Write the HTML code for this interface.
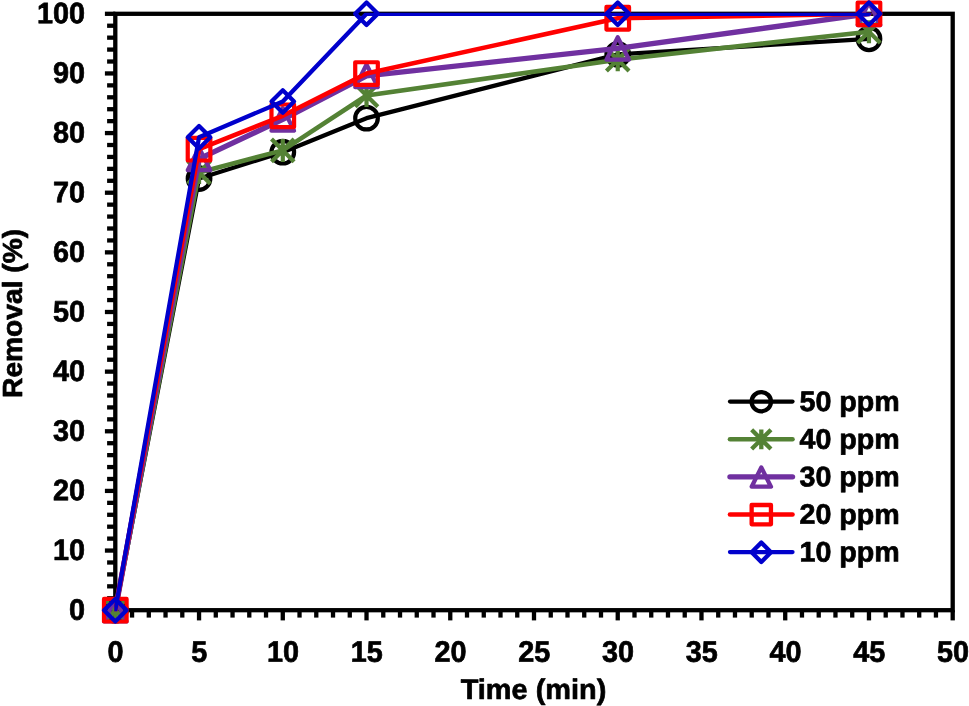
<!DOCTYPE html>
<html lang="en"><head><meta charset="utf-8"><title>Removal (%) vs Time (min)</title>
<style>html,body{margin:0;padding:0;background:#fff;}body{width:969px;height:706px;overflow:hidden;}svg{display:block;}text{font-family:"Liberation Sans", sans-serif;font-weight:bold;fill:#000;stroke:#000;stroke-width:0.7px;stroke-linejoin:round;}</style></head><body>
<svg width="969" height="706" viewBox="0 0 969 706">
<rect x="0" y="0" width="969" height="706" fill="#ffffff"/>
<g stroke="#000" stroke-width="4.30" fill="none" stroke-linecap="butt">
<rect x="115.30" y="13.80" width="837.40" height="596.40"/>
<line x1="104.90" y1="610.20" x2="115.30" y2="610.20"/>
<line x1="107.10" y1="598.27" x2="115.30" y2="598.27"/>
<line x1="107.10" y1="586.34" x2="115.30" y2="586.34"/>
<line x1="107.10" y1="574.42" x2="115.30" y2="574.42"/>
<line x1="107.10" y1="562.49" x2="115.30" y2="562.49"/>
<line x1="104.90" y1="550.56" x2="115.30" y2="550.56"/>
<line x1="107.10" y1="538.63" x2="115.30" y2="538.63"/>
<line x1="107.10" y1="526.70" x2="115.30" y2="526.70"/>
<line x1="107.10" y1="514.78" x2="115.30" y2="514.78"/>
<line x1="107.10" y1="502.85" x2="115.30" y2="502.85"/>
<line x1="104.90" y1="490.92" x2="115.30" y2="490.92"/>
<line x1="107.10" y1="478.99" x2="115.30" y2="478.99"/>
<line x1="107.10" y1="467.06" x2="115.30" y2="467.06"/>
<line x1="107.10" y1="455.14" x2="115.30" y2="455.14"/>
<line x1="107.10" y1="443.21" x2="115.30" y2="443.21"/>
<line x1="104.90" y1="431.28" x2="115.30" y2="431.28"/>
<line x1="107.10" y1="419.35" x2="115.30" y2="419.35"/>
<line x1="107.10" y1="407.42" x2="115.30" y2="407.42"/>
<line x1="107.10" y1="395.50" x2="115.30" y2="395.50"/>
<line x1="107.10" y1="383.57" x2="115.30" y2="383.57"/>
<line x1="104.90" y1="371.64" x2="115.30" y2="371.64"/>
<line x1="107.10" y1="359.71" x2="115.30" y2="359.71"/>
<line x1="107.10" y1="347.78" x2="115.30" y2="347.78"/>
<line x1="107.10" y1="335.86" x2="115.30" y2="335.86"/>
<line x1="107.10" y1="323.93" x2="115.30" y2="323.93"/>
<line x1="104.90" y1="312.00" x2="115.30" y2="312.00"/>
<line x1="107.10" y1="300.07" x2="115.30" y2="300.07"/>
<line x1="107.10" y1="288.14" x2="115.30" y2="288.14"/>
<line x1="107.10" y1="276.22" x2="115.30" y2="276.22"/>
<line x1="107.10" y1="264.29" x2="115.30" y2="264.29"/>
<line x1="104.90" y1="252.36" x2="115.30" y2="252.36"/>
<line x1="107.10" y1="240.43" x2="115.30" y2="240.43"/>
<line x1="107.10" y1="228.50" x2="115.30" y2="228.50"/>
<line x1="107.10" y1="216.58" x2="115.30" y2="216.58"/>
<line x1="107.10" y1="204.65" x2="115.30" y2="204.65"/>
<line x1="104.90" y1="192.72" x2="115.30" y2="192.72"/>
<line x1="107.10" y1="180.79" x2="115.30" y2="180.79"/>
<line x1="107.10" y1="168.86" x2="115.30" y2="168.86"/>
<line x1="107.10" y1="156.94" x2="115.30" y2="156.94"/>
<line x1="107.10" y1="145.01" x2="115.30" y2="145.01"/>
<line x1="104.90" y1="133.08" x2="115.30" y2="133.08"/>
<line x1="107.10" y1="121.15" x2="115.30" y2="121.15"/>
<line x1="107.10" y1="109.22" x2="115.30" y2="109.22"/>
<line x1="107.10" y1="97.30" x2="115.30" y2="97.30"/>
<line x1="107.10" y1="85.37" x2="115.30" y2="85.37"/>
<line x1="104.90" y1="73.44" x2="115.30" y2="73.44"/>
<line x1="107.10" y1="61.51" x2="115.30" y2="61.51"/>
<line x1="107.10" y1="49.58" x2="115.30" y2="49.58"/>
<line x1="107.10" y1="37.66" x2="115.30" y2="37.66"/>
<line x1="107.10" y1="25.73" x2="115.30" y2="25.73"/>
<line x1="104.90" y1="13.80" x2="115.30" y2="13.80"/>
<line x1="115.30" y1="610.20" x2="115.30" y2="620.40"/>
<line x1="132.05" y1="610.20" x2="132.05" y2="617.60"/>
<line x1="148.80" y1="610.20" x2="148.80" y2="617.60"/>
<line x1="165.54" y1="610.20" x2="165.54" y2="617.60"/>
<line x1="182.29" y1="610.20" x2="182.29" y2="617.60"/>
<line x1="199.04" y1="610.20" x2="199.04" y2="620.40"/>
<line x1="215.79" y1="610.20" x2="215.79" y2="617.60"/>
<line x1="232.54" y1="610.20" x2="232.54" y2="617.60"/>
<line x1="249.28" y1="610.20" x2="249.28" y2="617.60"/>
<line x1="266.03" y1="610.20" x2="266.03" y2="617.60"/>
<line x1="282.78" y1="610.20" x2="282.78" y2="620.40"/>
<line x1="299.53" y1="610.20" x2="299.53" y2="617.60"/>
<line x1="316.28" y1="610.20" x2="316.28" y2="617.60"/>
<line x1="333.02" y1="610.20" x2="333.02" y2="617.60"/>
<line x1="349.77" y1="610.20" x2="349.77" y2="617.60"/>
<line x1="366.52" y1="610.20" x2="366.52" y2="620.40"/>
<line x1="383.27" y1="610.20" x2="383.27" y2="617.60"/>
<line x1="400.02" y1="610.20" x2="400.02" y2="617.60"/>
<line x1="416.76" y1="610.20" x2="416.76" y2="617.60"/>
<line x1="433.51" y1="610.20" x2="433.51" y2="617.60"/>
<line x1="450.26" y1="610.20" x2="450.26" y2="620.40"/>
<line x1="467.01" y1="610.20" x2="467.01" y2="617.60"/>
<line x1="483.76" y1="610.20" x2="483.76" y2="617.60"/>
<line x1="500.50" y1="610.20" x2="500.50" y2="617.60"/>
<line x1="517.25" y1="610.20" x2="517.25" y2="617.60"/>
<line x1="534.00" y1="610.20" x2="534.00" y2="620.40"/>
<line x1="550.75" y1="610.20" x2="550.75" y2="617.60"/>
<line x1="567.50" y1="610.20" x2="567.50" y2="617.60"/>
<line x1="584.24" y1="610.20" x2="584.24" y2="617.60"/>
<line x1="600.99" y1="610.20" x2="600.99" y2="617.60"/>
<line x1="617.74" y1="610.20" x2="617.74" y2="620.40"/>
<line x1="634.49" y1="610.20" x2="634.49" y2="617.60"/>
<line x1="651.24" y1="610.20" x2="651.24" y2="617.60"/>
<line x1="667.98" y1="610.20" x2="667.98" y2="617.60"/>
<line x1="684.73" y1="610.20" x2="684.73" y2="617.60"/>
<line x1="701.48" y1="610.20" x2="701.48" y2="620.40"/>
<line x1="718.23" y1="610.20" x2="718.23" y2="617.60"/>
<line x1="734.98" y1="610.20" x2="734.98" y2="617.60"/>
<line x1="751.72" y1="610.20" x2="751.72" y2="617.60"/>
<line x1="768.47" y1="610.20" x2="768.47" y2="617.60"/>
<line x1="785.22" y1="610.20" x2="785.22" y2="620.40"/>
<line x1="801.97" y1="610.20" x2="801.97" y2="617.60"/>
<line x1="818.72" y1="610.20" x2="818.72" y2="617.60"/>
<line x1="835.46" y1="610.20" x2="835.46" y2="617.60"/>
<line x1="852.21" y1="610.20" x2="852.21" y2="617.60"/>
<line x1="868.96" y1="610.20" x2="868.96" y2="620.40"/>
<line x1="885.71" y1="610.20" x2="885.71" y2="617.60"/>
<line x1="902.46" y1="610.20" x2="902.46" y2="617.60"/>
<line x1="919.20" y1="610.20" x2="919.20" y2="617.60"/>
<line x1="935.95" y1="610.20" x2="935.95" y2="617.60"/>
<line x1="952.70" y1="610.20" x2="952.70" y2="620.40"/>
</g>
<text transform="translate(85.00 619.65) rotate(0.03) scale(0.9740 1)" font-size="29.60" text-anchor="end">0</text>
<text transform="translate(85.00 560.01) rotate(0.03) scale(0.9740 1)" font-size="29.60" text-anchor="end">10</text>
<text transform="translate(85.00 500.37) rotate(0.03) scale(0.9740 1)" font-size="29.60" text-anchor="end">20</text>
<text transform="translate(85.00 440.73) rotate(0.03) scale(0.9740 1)" font-size="29.60" text-anchor="end">30</text>
<text transform="translate(85.00 381.09) rotate(0.03) scale(0.9740 1)" font-size="29.60" text-anchor="end">40</text>
<text transform="translate(85.00 321.45) rotate(0.03) scale(0.9740 1)" font-size="29.60" text-anchor="end">50</text>
<text transform="translate(85.00 261.81) rotate(0.03) scale(0.9740 1)" font-size="29.60" text-anchor="end">60</text>
<text transform="translate(85.00 202.17) rotate(0.03) scale(0.9740 1)" font-size="29.60" text-anchor="end">70</text>
<text transform="translate(85.00 142.53) rotate(0.03) scale(0.9740 1)" font-size="29.60" text-anchor="end">80</text>
<text transform="translate(85.00 82.89) rotate(0.03) scale(0.9740 1)" font-size="29.60" text-anchor="end">90</text>
<text transform="translate(85.00 23.25) rotate(0.03) scale(0.9740 1)" font-size="29.60" text-anchor="end">100</text>
<text transform="translate(115.50 661.80) rotate(0.03) scale(0.9740 1)" font-size="29.60" text-anchor="middle">0</text>
<text transform="translate(199.24 661.80) rotate(0.03) scale(0.9740 1)" font-size="29.60" text-anchor="middle">5</text>
<text transform="translate(282.98 661.80) rotate(0.03) scale(0.9740 1)" font-size="29.60" text-anchor="middle">10</text>
<text transform="translate(366.72 661.80) rotate(0.03) scale(0.9740 1)" font-size="29.60" text-anchor="middle">15</text>
<text transform="translate(450.46 661.80) rotate(0.03) scale(0.9740 1)" font-size="29.60" text-anchor="middle">20</text>
<text transform="translate(534.20 661.80) rotate(0.03) scale(0.9740 1)" font-size="29.60" text-anchor="middle">25</text>
<text transform="translate(617.94 661.80) rotate(0.03) scale(0.9740 1)" font-size="29.60" text-anchor="middle">30</text>
<text transform="translate(701.68 661.80) rotate(0.03) scale(0.9740 1)" font-size="29.60" text-anchor="middle">35</text>
<text transform="translate(785.42 661.80) rotate(0.03) scale(0.9740 1)" font-size="29.60" text-anchor="middle">40</text>
<text transform="translate(869.16 661.80) rotate(0.03) scale(0.9740 1)" font-size="29.60" text-anchor="middle">45</text>
<text transform="translate(952.90 661.80) rotate(0.03) scale(0.9740 1)" font-size="29.60" text-anchor="middle">50</text>
<text transform="translate(533.50 699.10) rotate(0.03) scale(1.0180 1)" font-size="28.40" text-anchor="middle">Time (min)</text>
<text transform="translate(22 313.4) rotate(-90) scale(1.0 1)" font-size="28.2" text-anchor="middle">Removal (%)</text>
<defs><clipPath id="plotclip"><rect x="114.30" y="12.80" width="839.40" height="598.40"/></clipPath></defs>
<g>
<polyline clip-path="url(#plotclip)" points="115.30,610.20 199.04,178.59 282.78,152.16 366.52,118.17 617.74,54.36 868.96,38.85" fill="none" stroke="#000000" stroke-width="4.25" stroke-linejoin="round" stroke-linecap="round"/>
<circle cx="115.30" cy="610.20" r="11.30" fill="none" stroke="#000000" stroke-width="4.20"/>
<circle cx="199.04" cy="178.59" r="11.30" fill="none" stroke="#000000" stroke-width="4.20"/>
<circle cx="282.78" cy="152.16" r="11.30" fill="none" stroke="#000000" stroke-width="4.20"/>
<circle cx="366.52" cy="118.17" r="11.30" fill="none" stroke="#000000" stroke-width="4.20"/>
<circle cx="617.74" cy="54.36" r="11.30" fill="none" stroke="#000000" stroke-width="4.20"/>
<circle cx="868.96" cy="38.85" r="11.30" fill="none" stroke="#000000" stroke-width="4.20"/>
</g>
<g>
<polyline clip-path="url(#plotclip)" points="115.30,610.20 199.04,172.44 282.78,150.38 366.52,95.51 617.74,59.72 868.96,31.69" fill="none" stroke="#548235" stroke-width="4.60" stroke-linejoin="round" stroke-linecap="round"/>
<path d="M115.30 598.70L115.30 621.70M104.00 598.90L126.60 621.50M104.00 621.50L126.60 598.90" fill="none" stroke="#548235" stroke-width="4.20" stroke-linecap="butt"/>
<path d="M199.04 160.94L199.04 183.94M187.74 161.14L210.34 183.74M187.74 183.74L210.34 161.14" fill="none" stroke="#548235" stroke-width="4.20" stroke-linecap="butt"/>
<path d="M282.78 138.88L282.78 161.88M271.48 139.08L294.08 161.68M271.48 161.68L294.08 139.08" fill="none" stroke="#548235" stroke-width="4.20" stroke-linecap="butt"/>
<path d="M366.52 84.01L366.52 107.01M355.22 84.21L377.82 106.81M355.22 106.81L377.82 84.21" fill="none" stroke="#548235" stroke-width="4.20" stroke-linecap="butt"/>
<path d="M617.74 48.22L617.74 71.22M606.44 48.42L629.04 71.02M606.44 71.02L629.04 48.42" fill="none" stroke="#548235" stroke-width="4.20" stroke-linecap="butt"/>
<path d="M868.96 20.19L868.96 43.19M857.66 20.39L880.26 42.99M857.66 42.99L880.26 20.39" fill="none" stroke="#548235" stroke-width="4.20" stroke-linecap="butt"/>
</g>
<g>
<polyline clip-path="url(#plotclip)" points="115.30,610.20 199.04,158.90 282.78,119.36 366.52,75.83 617.74,48.39 868.96,13.80" fill="none" stroke="#7030A0" stroke-width="5.40" stroke-linejoin="round" stroke-linecap="round"/>
<path d="M115.30 598.90L126.60 621.50L104.00 621.50Z" fill="none" stroke="#7030A0" stroke-width="4.20" stroke-linejoin="round"/>
<path d="M199.04 147.60L210.34 170.20L187.74 170.20Z" fill="none" stroke="#7030A0" stroke-width="4.20" stroke-linejoin="round"/>
<path d="M282.78 108.06L294.08 130.66L271.48 130.66Z" fill="none" stroke="#7030A0" stroke-width="4.20" stroke-linejoin="round"/>
<path d="M366.52 64.53L377.82 87.13L355.22 87.13Z" fill="none" stroke="#7030A0" stroke-width="4.20" stroke-linejoin="round"/>
<path d="M617.74 37.09L629.04 59.69L606.44 59.69Z" fill="none" stroke="#7030A0" stroke-width="4.20" stroke-linejoin="round"/>
<path d="M868.96 2.50L880.26 25.10L857.66 25.10Z" fill="none" stroke="#7030A0" stroke-width="4.20" stroke-linejoin="round"/>
</g>
<g>
<polyline clip-path="url(#plotclip)" points="115.30,610.20 199.04,149.18 282.78,115.78 366.52,73.56 617.74,18.27 868.96,13.80" fill="none" stroke="#FF0000" stroke-width="4.60" stroke-linejoin="round" stroke-linecap="round"/>
<rect x="104.00" y="598.90" width="22.60" height="22.60" fill="none" stroke="#FF0000" stroke-width="4.20" stroke-linejoin="round"/>
<rect x="187.74" y="137.88" width="22.60" height="22.60" fill="none" stroke="#FF0000" stroke-width="4.20" stroke-linejoin="round"/>
<rect x="271.48" y="104.48" width="22.60" height="22.60" fill="none" stroke="#FF0000" stroke-width="4.20" stroke-linejoin="round"/>
<rect x="355.22" y="62.26" width="22.60" height="22.60" fill="none" stroke="#FF0000" stroke-width="4.20" stroke-linejoin="round"/>
<rect x="606.44" y="6.97" width="22.60" height="22.60" fill="none" stroke="#FF0000" stroke-width="4.20" stroke-linejoin="round"/>
<rect x="857.66" y="2.50" width="22.60" height="22.60" fill="none" stroke="#FF0000" stroke-width="4.20" stroke-linejoin="round"/>
</g>
<g>
<polyline clip-path="url(#plotclip)" points="115.30,610.20 199.04,137.25 282.78,101.47 366.52,13.80 617.74,13.80 868.96,13.80" fill="none" stroke="#0000CC" stroke-width="4.30" stroke-linejoin="round" stroke-linecap="round"/>
<path d="M115.30 598.90L126.60 610.20L115.30 621.50L104.00 610.20Z" fill="none" stroke="#0000CC" stroke-width="4.20" stroke-linejoin="round"/>
<path d="M199.04 125.95L210.34 137.25L199.04 148.55L187.74 137.25Z" fill="none" stroke="#0000CC" stroke-width="4.20" stroke-linejoin="round"/>
<path d="M282.78 90.17L294.08 101.47L282.78 112.77L271.48 101.47Z" fill="none" stroke="#0000CC" stroke-width="4.20" stroke-linejoin="round"/>
<path d="M366.52 2.50L377.82 13.80L366.52 25.10L355.22 13.80Z" fill="none" stroke="#0000CC" stroke-width="4.20" stroke-linejoin="round"/>
<path d="M617.74 2.50L629.04 13.80L617.74 25.10L606.44 13.80Z" fill="none" stroke="#0000CC" stroke-width="4.20" stroke-linejoin="round"/>
<path d="M868.96 2.50L880.26 13.80L868.96 25.10L857.66 13.80Z" fill="none" stroke="#0000CC" stroke-width="4.20" stroke-linejoin="round"/>
</g>
<line x1="730.0" y1="401.60" x2="792.5" y2="401.60" stroke="#000000" stroke-width="4.25" stroke-linecap="round"/>
<circle cx="761.30" cy="401.70" r="9.65" fill="none" stroke="#000000" stroke-width="4.30"/>
<text transform="translate(799.50 411.00) rotate(0.03) scale(1.0120 1)" font-size="28.30" text-anchor="start">50 ppm</text>
<line x1="730.0" y1="439.22" x2="792.5" y2="439.22" stroke="#548235" stroke-width="4.60" stroke-linecap="round"/>
<path d="M761.30 429.57L761.30 449.27M751.65 429.77L770.95 449.07M751.65 449.07L770.95 429.77" fill="none" stroke="#548235" stroke-width="4.30" stroke-linecap="butt"/>
<text transform="translate(799.50 448.62) rotate(0.03) scale(1.0120 1)" font-size="28.30" text-anchor="start">40 ppm</text>
<line x1="730.0" y1="476.84" x2="792.5" y2="476.84" stroke="#7030A0" stroke-width="5.40" stroke-linecap="round"/>
<path d="M761.30 467.39L770.95 486.69L751.65 486.69Z" fill="none" stroke="#7030A0" stroke-width="4.30" stroke-linejoin="round"/>
<text transform="translate(799.50 486.24) rotate(0.03) scale(1.0120 1)" font-size="28.30" text-anchor="start">30 ppm</text>
<line x1="730.0" y1="514.46" x2="792.5" y2="514.46" stroke="#FF0000" stroke-width="4.60" stroke-linecap="round"/>
<rect x="751.65" y="505.01" width="19.30" height="19.30" fill="none" stroke="#FF0000" stroke-width="4.30" stroke-linejoin="round"/>
<text transform="translate(799.50 523.86) rotate(0.03) scale(1.0120 1)" font-size="28.30" text-anchor="start">20 ppm</text>
<line x1="730.0" y1="552.08" x2="792.5" y2="552.08" stroke="#0000CC" stroke-width="4.30" stroke-linecap="round"/>
<path d="M761.30 542.63L770.95 552.28L761.30 561.93L751.65 552.28Z" fill="none" stroke="#0000CC" stroke-width="4.30" stroke-linejoin="round"/>
<text transform="translate(799.50 561.48) rotate(0.03) scale(1.0120 1)" font-size="28.30" text-anchor="start">10 ppm</text>
</svg></body></html>
